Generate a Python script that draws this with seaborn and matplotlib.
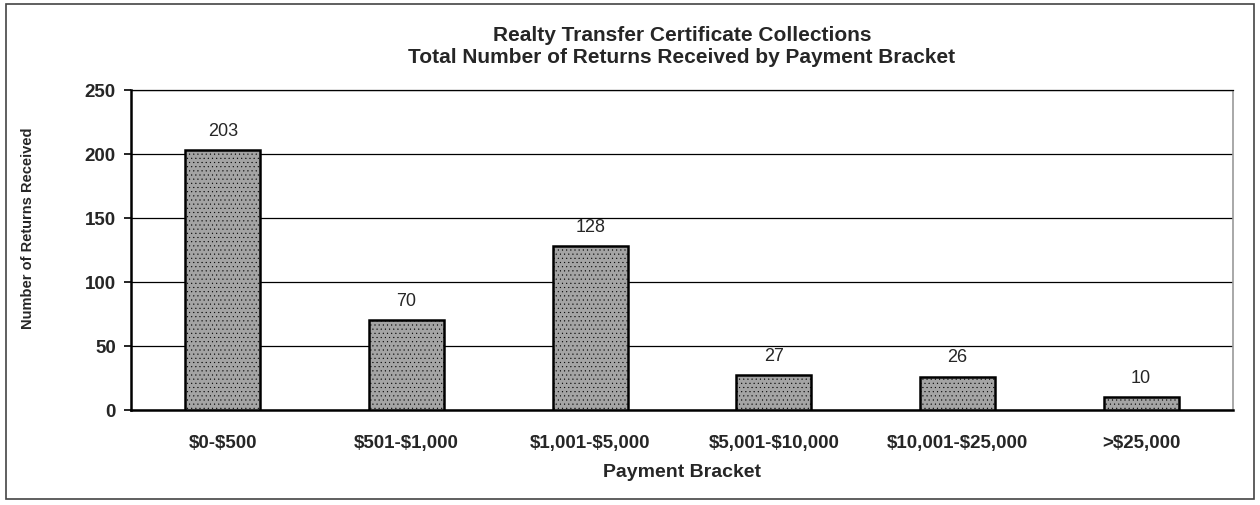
import numpy as np
import pandas as pd
import matplotlib
matplotlib.use("Agg")
import matplotlib.pyplot as plt
import seaborn as sns
from matplotlib.patches import Rectangle

# Datos
brackets = ["$0-$500", "$501-$1,000", "$1,001-$5,000", "$5,001-$10,000",
            "$10,001-$25,000", ">$25,000"]
returns = [203, 70, 128, 27, 26, 10]
y_ticks = [0, 50, 100, 150, 200, 250]

df = pd.DataFrame({"bracket": brackets, "returns": returns})

sns.set_style("white")
plt.rcParams["font.family"] = ["Liberation Sans", "DejaVu Sans"]
plt.rcParams["text.parse_math"] = False  # los "$" son texto normal
plt.rcParams["hatch.color"] = "#707070"

fig = plt.figure(figsize=(12.6, 5.06), dpi=100)
ax = fig.add_axes([131 / 1260, 1 - 411 / 506, (1233 - 131) / 1260, (411 - 91) / 506])

sns.barplot(data=df, x="bracket", y="returns", color="#a4a4a4", width=0.41,
            edgecolor="black", linewidth=1.8, saturation=1, ax=ax, zorder=3)
for p in ax.patches:
    p.set_hatch("....")
    p.set_hatch_linewidth(0.3)

# Etiquetas de valor
for i, v in enumerate(returns):
    ax.text(i, v + 9, str(v), ha="center", va="bottom", fontsize=13)

ax.set_ylim(0, 250)
ax.set_xlim(-0.5, len(brackets) - 0.5)
ax.set_yticks(y_ticks)
ax.set_yticklabels([str(t) for t in y_ticks], fontsize=13.5, fontweight="bold")
ax.yaxis.grid(True, color="black", linewidth=0.9, zorder=0)
ax.set_axisbelow(True)

# Marcas del eje x entre categorías
ax.set_xticks(np.arange(len(brackets)))
ax.set_xticklabels(brackets, fontsize=13.5, fontweight="bold")
ax.tick_params(axis="x", length=0, pad=17)
ax.set_xticks(np.arange(len(brackets) + 1) - 0.5, minor=True)
ax.tick_params(axis="x", which="minor", length=5, width=1.2, direction="out", color="black")
ax.tick_params(axis="y", length=5, width=1.2, direction="out", color="black", left=True, pad=6)

ax.set_xlabel("Payment Bracket", fontsize=14, fontweight="bold", labelpad=9)
ax.set_ylabel("Number of Returns Received", fontsize=10.5, fontweight="bold")
ax.yaxis.set_label_coords(-0.087, 0.57)

for s in ["left", "bottom"]:
    ax.spines[s].set_color("black")
    ax.spines[s].set_linewidth(1.8)
ax.spines["top"].set_color("black")
ax.spines["top"].set_linewidth(0.9)
ax.spines["right"].set_color("#9a9a9a")
ax.spines["right"].set_linewidth(1.2)
ax.spines["right"].set_linestyle((0, (1, 1)))

fig.text((131 + 1233) / 2 / 1260, 1 - 26 / 506,
         "Realty Transfer Certificate Collections\nTotal Number of Returns Received by Payment Bracket",
         ha="center", va="top", fontsize=15, fontweight="bold", linespacing=1.2)

# Marco exterior
fig.patches.append(Rectangle((6 / 1260, 6 / 506), 1248 / 1260, 495 / 506,
                             transform=fig.transFigure, fill=False,
                             edgecolor="#444444", linewidth=1.2))

fig.savefig("out.png", dpi=100)
